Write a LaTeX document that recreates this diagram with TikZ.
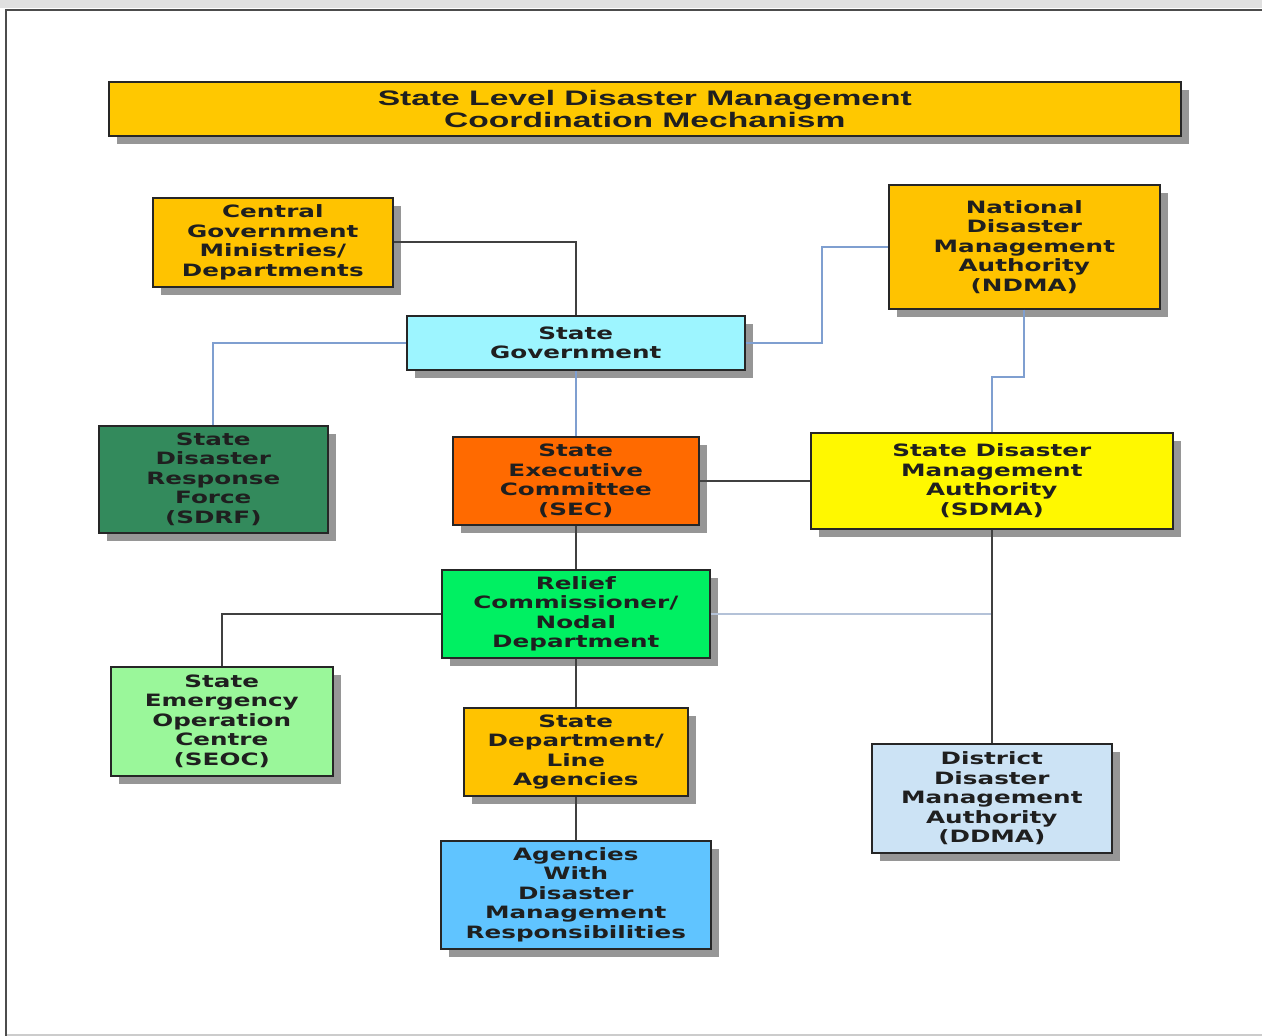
\documentclass[tikz,border=0pt]{standalone}
\usepackage{fontspec}
\usetikzlibrary{shadows}
\newfontfamily\boxfont{DejaVu Sans Bold}[FakeStretch=1.45]
\newfontfamily\titlefont{Liberation Sans Bold}[FakeStretch=1.6]
\definecolor{titlegold}{HTML}{FFC800}
\definecolor{gold}{HTML}{FFC300}
\definecolor{cyanbox}{HTML}{9DF5FF}
\definecolor{dkgreen}{HTML}{338A5C}
\definecolor{orangebox}{HTML}{FF6A00}
\definecolor{yellowbox}{HTML}{FFF800}
\definecolor{greenbox}{HTML}{00F062}
\definecolor{ltgreen}{HTML}{9AF79A}
\definecolor{skybox}{HTML}{60C4FF}
\definecolor{palebox}{HTML}{CCE3F5}
\definecolor{blueline}{HTML}{7F9FD0}
\definecolor{lightline}{HTML}{B4C2D8}
\begin{document}
\begin{tikzpicture}[x=1pt,y=-1pt,
  box/.style={draw=black!85, line width=1.6pt, anchor=north west, inner sep=0pt,
    align=center, text=black!88, font=\boxfont\fontsize{17}{19.5}\selectfont,
    drop shadow={shadow xshift=8pt, shadow yshift=-8pt, fill=black!55, opacity=0.75}},
  dk/.style={draw=black!75, line width=1.8pt},
  bl/.style={draw=blueline, line width=1.8pt},
  lt/.style={draw=lightline, line width=1.8pt}]
\useasboundingbox (0,0) rectangle (1262,1036);
\fill[white] (0,0) rectangle (1262,1036);
\fill[black!12] (0,0) rectangle (1262,8);
\draw[black!20, line width=2pt] (6,1035) -- (1262,1035);
\draw[black!70, line width=2pt] (6,1036) -- (6,10) -- (1262,10);

\node[box, fill=titlegold, minimum width=1072pt, minimum height=54pt,
  font=\titlefont\fontsize{21}{22}\selectfont] (title) at (108,81)
  {State Level Disaster Management\\Coordination Mechanism};
\node[box, fill=gold, minimum width=240pt, minimum height=89pt] (cg) at (152,197)
  {Central\\Government\\Ministries/\\Departments};
\node[box, fill=cyanbox, minimum width=338pt, minimum height=54pt] (sg) at (406,315)
  {State\\Government};
\node[box, fill=gold, minimum width=271pt, minimum height=124pt] (ndma) at (888,184)
  {National\\Disaster\\Management\\Authority\\(NDMA)};
\node[box, fill=dkgreen, minimum width=229pt, minimum height=107pt] (sdrf) at (98,425)
  {State\\Disaster\\Response\\Force\\(SDRF)};
\node[box, fill=orangebox, minimum width=246pt, minimum height=88pt] (sec) at (452,436)
  {State\\Executive\\Committee\\(SEC)};
\node[box, fill=yellowbox, minimum width=362pt, minimum height=96pt] (sdma) at (810,432)
  {State Disaster\\Management\\Authority\\(SDMA)};
\node[box, fill=greenbox, minimum width=268pt, minimum height=88pt] (rc) at (441,569)
  {Relief\\Commissioner/\\Nodal\\Department};
\node[box, fill=ltgreen, minimum width=222pt, minimum height=109pt] (seoc) at (110,666)
  {State\\Emergency\\Operation\\Centre\\(SEOC)};
\node[box, fill=gold, minimum width=224pt, minimum height=88pt] (sd) at (463,707)
  {State\\Department/\\Line\\Agencies};
\node[box, fill=skybox, minimum width=270pt, minimum height=108pt] (ag) at (440,840)
  {Agencies\\With\\Disaster\\Management\\Responsibilities};
\node[box, fill=palebox, minimum width=240pt, minimum height=109pt] (ddma) at (871,743)
  {District\\Disaster\\Management\\Authority\\(DDMA)};

\coordinate (jn) at (822,0);
\draw[dk] (cg.east) -- (cg.east -| sg.north) -- (sg.north);
\draw[bl] (sg.west) -| (sdrf.north);
\draw[bl] (sg.east) -- (sg.east -| jn) |- (ndma.west);
\draw[bl] (sg.south) -- (sg.south |- sec.north);
\draw[bl] (ndma.south) -- ++(0,67) -| (sdma.north);
\draw[dk] (sec.east) -- (sdma.west);
\draw[dk] (sec.south) -- (sec.south |- rc.north);
\draw[dk] (rc.west) -| (seoc.north);
\draw[lt] (rc.east) -- (rc.east -| sdma.south);
\draw[dk] (sdma.south) -- (sdma.south |- ddma.north);
\draw[dk] (rc.south) -- (rc.south |- sd.north);
\draw[dk] (sd.south) -- (sd.south |- ag.north);
\end{tikzpicture}
\end{document}
